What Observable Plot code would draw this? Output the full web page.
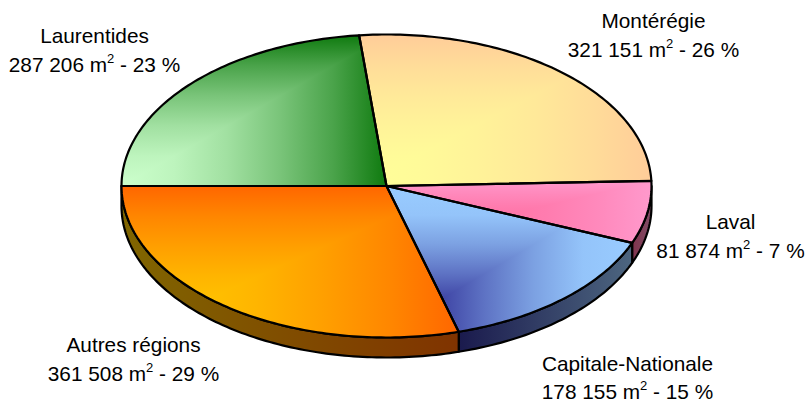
<!DOCTYPE html>
<html><head><meta charset="utf-8">
<style>html,body{margin:0;padding:0;background:#fff}svg{display:block}</style>
<script src="https://cdn.jsdelivr.net/npm/d3@7"></script>
<script src="https://cdn.jsdelivr.net/npm/@observablehq/plot@0.6"></script>
</head><body><div id="chart"></div>
<script>
// Data
const regions = ["Laurentides","Montérégie","Laval","Capitale-Nationale","Autres régions"];
const areas = [287206, 321151, 81874, 178155, 361508];
const areaLabels = ["287 206","321 151","81 874","178 155","361 508"];
const percents = [23, 26, 7, 15, 29];
// Styling
const cornerColors = ["#CCFFCC","#FFFF99","#FF6699","#333399","#FFCC00"];
const edgeColors = ["#0F7A0F","#FFCC99","#FF99CC","#99CCFF","#FF6600"];
const ramp = [0, .08, .23, .44, .69, 1];
const rampBlue = [0, .08, .42, .72, .95, 1];
const ramps = [ramp, ramp, ramp, rampBlue, ramp];
const labelX = [94, 653, 730, 627, 133];
const labelY1 = [36, 21, 222, 364, 345];
const labelY2 = [65, 50, 251, 392, 374];

const W = 805, H = 402;
const xRange = [121, 651], yRange = [337, 34];
const sx = d3.scaleLinear([-1, 1], xRange), sy = d3.scaleLinear([-1, 1], yRange);
const depth = 20 / 151.5;
const total = d3.sum(areas);
const rad = Math.PI / 180;
const pt = a => [Math.sin(a * rad), Math.cos(a * rad)];
const arc = (a0, a1) => {
  const n = Math.max(2, Math.ceil(Math.abs(a1 - a0)));
  return d3.range(n + 1).map(i => pt(a0 + (a1 - a0) * i / n));
};
let acc = -90;
const slices = areas.map((v, i) => {
  const a0 = acc, a1 = acc + v / total * 360; acc = a1;
  const poly = [[0, 0], ...arc(a0, a1)];
  return {i, a0, a1, poly,
    x0: d3.min(poly, d => d[0]), x1: d3.max(poly, d => d[0]),
    y0: d3.min(poly, d => d[1]), y1: d3.max(poly, d => d[1])};
});
// keep the part of a polygon above the wedge's corner-to-corner diagonal
function clipAbove(poly, s) {
  const f = p => (p[1] - s.y0) / (s.y1 - s.y0) - (p[0] - s.x0) / (s.x1 - s.x0);
  const out = [];
  poly.forEach((p, k) => {
    const q = poly[(k + 1) % poly.length], fp = f(p), fq = f(q);
    if (fp >= 0) out.push(p);
    if (fp * fq < 0) { const t = fp / (fp - fq); out.push([p[0] + (q[0] - p[0]) * t, p[1] + (q[1] - p[1]) * t]); }
  });
  return out;
}
const half = c => { const r = d3.rgb(c); return d3.rgb(r.r / 2, r.g / 2, r.b / 2).formatHex(); };
const xy = {x: d => d[0], y: d => d[1], curve: "linear-closed"};

const sides = slices.map(s => {
  const a0 = Math.max(s.a0, 90), a1 = Math.min(s.a1, 270);
  if (a1 <= a0) return null;
  const top = arc(a0, a1);
  const poly = [...top, ...top.slice().reverse().map(p => [p[0], p[1] - depth])];
  return {i: s.i, poly, x0: d3.min(top, d => d[0]), x1: d3.max(top, d => d[0])};
}).filter(Boolean);

// superscript the 2 of m2, keeping the text real
function superscript(index, scales, values, dims, ctx, next) {
  const g = next(index, scales, values, dims, ctx);
  d3.select(g).selectAll("text").each(function () {
    const [a, b] = this.textContent.split("²");
    const t = d3.select(this).text(a);
    t.append("tspan").attr("dy", -9).attr("font-size", 13).text("2");
    t.append("tspan").attr("dy", 9).text(b);
  });
  return g;
}
const font = {fontSize: 20.8, fill: "#000", textAnchor: "middle", lineAnchor: "middle"};
const idx = d3.range(regions.length);

const marks = [];
sides.forEach(s => {
  marks.push(Plot.line(s.poly, {...xy, fill: `url(#side${s.i})`, stroke: "#000", strokeWidth: 2.2}));
});
slices.forEach(s => {
  marks.push(Plot.line(s.poly, {...xy, fill: `url(#h${s.i})`}));
  marks.push(Plot.line(clipAbove(s.poly, s), {...xy, fill: `url(#v${s.i})`}));
});
slices.forEach(s => {
  marks.push(Plot.line(s.poly, {...xy, fill: "none", stroke: "#000", strokeWidth: 2.2}));
});
marks.push(Plot.text(idx, {...font, x: i => sx.invert(labelX[i]), y: i => sy.invert(labelY1[i]), text: i => regions[i]}));
marks.push(Plot.text(idx, {...font, x: i => sx.invert(labelX[i]), y: i => sy.invert(labelY2[i]),
  text: i => `${areaLabels[i]} m² - ${percents[i]} %`, render: superscript}));

const chart = Plot.plot({
  width: W, height: H, margin: 0,
  x: {domain: [-1, 1], range: xRange, axis: null},
  y: {domain: [-1, 1], range: yRange, axis: null},
  style: {fontFamily: "'Liberation Sans', Arial, sans-serif", background: "#fff", overflow: "visible"},
  marks
});
const defs = d3.select(chart).insert("defs", ":first-child");
function grad(id, x1, y1, x2, y2, c0, c1, r) {
  const g = defs.append("linearGradient").attr("id", id).attr("gradientUnits", "userSpaceOnUse")
    .attr("x1", x1).attr("y1", y1).attr("x2", x2).attr("y2", y2);
  const mix = d3.interpolateRgb(c0, c1);
  r.forEach((t, k) => g.append("stop").attr("offset", k / (r.length - 1)).attr("stop-color", mix(t)));
}
slices.forEach(s => {
  const c0 = cornerColors[s.i], c1 = edgeColors[s.i], r = ramps[s.i];
  grad(`h${s.i}`, sx(s.x0), 0, sx(s.x1), 0, c0, c1, r);
  grad(`v${s.i}`, 0, sy(s.y0), 0, sy(s.y1), c0, c1, r);
});
sides.forEach(s => grad(`side${s.i}`, sx(s.x0), 0, sx(s.x1), 0, half(cornerColors[s.i]), half(edgeColors[s.i]), [0, 1]));
document.getElementById("chart").append(chart);
</script></body></html>
